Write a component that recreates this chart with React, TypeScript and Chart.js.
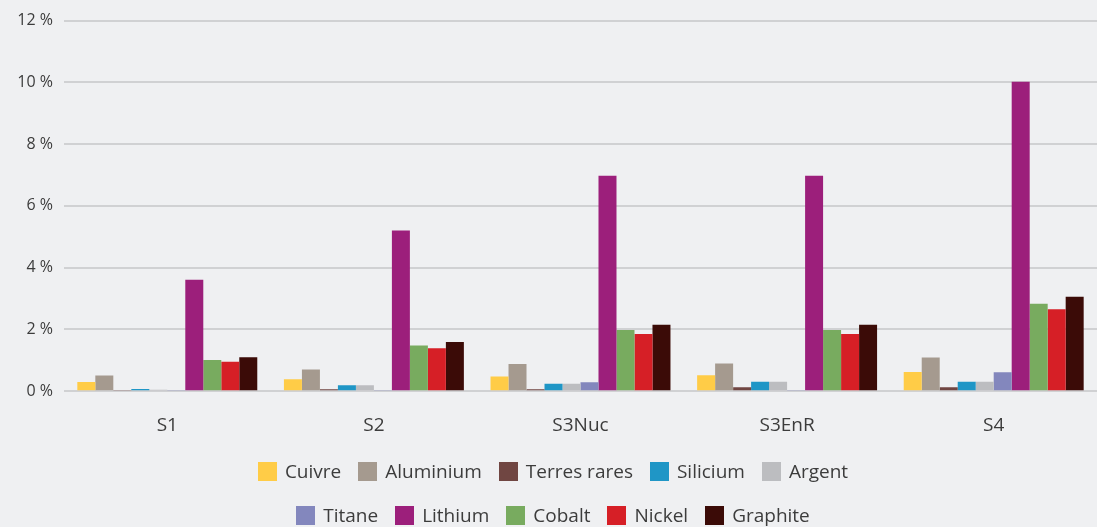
import React, { useEffect, useRef } from "react";
import { Chart, registerables } from "chart.js";

Chart.register(...registerables);

const categories = ["S1", "S2", "S3Nuc", "S3EnR", "S4"];

const cuivre = [0.30, 0.39, 0.48, 0.52, 0.62];
const aluminium = [0.51, 0.70, 0.88, 0.90, 1.09];
const terresRares = [0.02, 0.06, 0.06, 0.13, 0.13];
const silicium = [0.07, 0.19, 0.24, 0.31, 0.31];
const argent = [0.05, 0.19, 0.24, 0.31, 0.31];
const titane = [0.02, 0.02, 0.29, 0.02, 0.61];
const lithium = [3.61, 5.2, 6.98, 6.98, 10.02];
const cobalt = [1.01, 1.48, 1.98, 1.98, 2.83];
const nickel = [0.95, 1.39, 1.85, 1.85, 2.65];
const graphite = [1.10, 1.59, 2.15, 2.15, 3.06];

const yTicks = [0, 2, 4, 6, 8, 10, 12];

const series = [
  { label: "Cuivre", data: cuivre, color: "#ffcc47" },
  { label: "Aluminium", data: aluminium, color: "#a59a8f" },
  { label: "Terres rares", data: terresRares, color: "#704642" },
  { label: "Silicium", data: silicium, color: "#1f96c6" },
  { label: "Argent", data: argent, color: "#bcbdc0" },
  { label: "Titane", data: titane, color: "#8387bd" },
  { label: "Lithium", data: lithium, color: "#9c1f7b" },
  { label: "Cobalt", data: cobalt, color: "#78ab5f" },
  { label: "Nickel", data: nickel, color: "#d61f26" },
  { label: "Graphite", data: graphite, color: "#3b0b07" },
];

const FONT = "'Open Sans', 'DejaVu Sans', sans-serif";
const TEXT = "#3c3c3c";
const BG = "#eff0f2";

export default function App() {
  const ref = useRef<HTMLCanvasElement | null>(null);

  useEffect(() => {
    if (!ref.current) return;
    const chart = new Chart(ref.current, {
      type: "bar",
      data: {
        labels: categories,
        datasets: series.map((s) => ({
          label: s.label,
          data: s.data,
          backgroundColor: s.color,
          borderWidth: 0,
          categoryPercentage: 0.871,
          barPercentage: 1,
        })),
      },
      options: {
        responsive: false,
        animation: false,
        layout: { padding: { top: 16.5, bottom: 13, left: 0, right: 0 } },
        plugins: {
          legend: { display: false },
          tooltip: { enabled: false },
        },
        scales: {
          x: {
            grid: { display: false, drawTicks: false },
            border: { display: false },
            ticks: {
              padding: 23,
              color: TEXT,
              font: { family: FONT, size: 19 },
              maxRotation: 0,
            },
          },
          y: {
            min: 0,
            max: 12,
            afterBuildTicks: (scale: any) => {
              scale.ticks = yTicks.map((v) => ({ value: v }));
            },
            afterFit: (scale: any) => {
              scale.width = 64;
            },
            grid: { color: "#d0d1d3", lineWidth: 2, drawTicks: false },
            border: { display: false },
            ticks: {
              padding: 11,
              color: TEXT,
              font: { family: FONT, size: 16 },
              callback: (v: any) => `${v} %`,
            },
          },
        },
      },
    });
    return () => chart.destroy();
  }, []);

  const rows = [series.slice(0, 5), series.slice(5)];

  return (
    <div
      style={{
        position: "absolute",
        left: 0,
        top: 0,
        width: 1097,
        height: 527,
        background: BG,
        overflow: "hidden",
      }}
    >
      <canvas
        ref={ref}
        width={1097}
        height={473}
        style={{ position: "absolute", left: 0, top: 0 }}
      />
      <div
        style={{
          position: "absolute",
          left: 9,
          top: 449,
          width: 1088,
          fontFamily: FONT,
          fontSize: 19,
          color: TEXT,
        }}
      >
        {rows.map((row, ri) => (
          <div
            key={ri}
            style={{
              display: "flex",
              justifyContent: "center",
              alignItems: "center",
              height: 44,
              gap: 17,
            }}
          >
            {row.map((s) => (
              <div key={s.label} style={{ display: "flex", alignItems: "center" }}>
                <span
                  style={{
                    display: "inline-block",
                    width: 19,
                    height: 19,
                    background: s.color,
                    marginRight: 8,
                  }}
                />
                <span style={{ whiteSpace: "nowrap" }}>{s.label}</span>
              </div>
            ))}
          </div>
        ))}
      </div>
    </div>
  );
}
